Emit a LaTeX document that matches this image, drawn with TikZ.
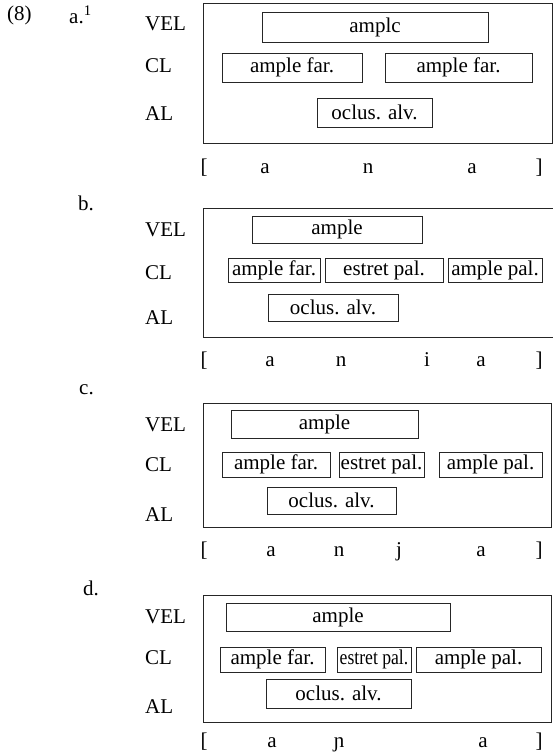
\documentclass[tikz,border=0pt]{standalone}
\usepackage{fontspec}
\setmainfont{Liberation Serif}

\tikzset{
  seg/.style={draw=black!85, line width=0.7pt, inner sep=0pt, minimum height=27pt},
  tier/.style={anchor=west, inner sep=0pt},
  phon/.style={anchor=base, inner sep=0pt},
  frame/.style={draw=black!85, line width=0.8pt}
}

\begin{document}
\begin{tikzpicture}[x=1pt, y=-1pt, font=\fontsize{21}{25}\selectfont]
\useasboundingbox (0,0) rectangle (553,754);

% (8a): [ana]
\begin{scope}[yshift=-3pt]
\node[tier] (num) at (7,12) {(8)};
\node[tier] (la) at (69,12) {a.\textsuperscript{1}};
\node[tier] (aV) at (145,21) {VEL};
\node[tier] (aC) at (145,63) {CL};
\node[tier] (aA) at (145,111) {AL};
\draw[frame] (203,0) rectangle (552,140);
\node[seg, minimum width=226pt, minimum height=30pt] (aVel) at (375,24) {amplc};
\node[seg, minimum width=140pt, minimum height=29pt] (aClA) at (292,64.5) {ample far.};
\node[seg, minimum width=147pt, minimum height=29pt] (aClB) at (458.5,64.5) {ample far.};
\node[seg, minimum width=115pt, minimum height=29pt] (aAl) at (374.5,109.5) {oclus. alv.};
\node[phon] (aL) at (204,170) {[};
\node[phon] (a1) at (265,170) {a};
\node[phon] (a2) at (368,170) {n};
\node[phon] (a3) at (472,170) {a};
\node[phon] (aR) at (539,170) {]};
\end{scope}

% (8b): [ania]
\begin{scope}[yshift=-208pt]
\node[tier] (lb) at (78,-5) {b.};
\node[tier] (bV) at (145,22) {VEL};
\node[tier] (bC) at (145,65) {CL};
\node[tier] (bA) at (145,110) {AL};
\draw[frame] (203,0) rectangle (556,129);
\node[seg, minimum width=170pt] (bVel) at (337,21.5) {ample};
\node[seg, minimum width=92pt, minimum height=24pt] (bClA) at (274,62) {ample far.};
\node[seg, minimum width=118pt, minimum height=24pt] (bClB) at (384,62) {estret pal.};
\node[seg, minimum width=94pt, minimum height=24pt] (bClC) at (495,62) {ample pal.};
\node[seg, minimum width=130pt] (bAl) at (333,99.5) {oclus. alv.};
\node[phon] (bL) at (204,158) {[};
\node[phon] (b1) at (270,158) {a};
\node[phon] (b2) at (341,158) {n};
\node[phon] (b3) at (427,158) {i};
\node[phon] (b4) at (481,158) {a};
\node[phon] (bR) at (539,158) {]};
\end{scope}

% (8c): [anja]
\begin{scope}[yshift=-403pt]
\node[tier] (lc) at (79,-13) {c.};
\node[tier] (cV) at (145,22) {VEL};
\node[tier] (cC) at (145,62) {CL};
\node[tier] (cA) at (145,112) {AL};
\draw[frame] (203,0) rectangle (551,124);
\node[seg, minimum width=187pt, minimum height=28pt] (cVel) at (324.5,21) {ample};
\node[seg, minimum width=108pt, minimum height=25pt] (cClA) at (276,61.5) {ample far.};
\node[seg, minimum width=85pt, minimum height=25pt] (cClB) at (381.5,61.5) {estret pal.};
\node[seg, minimum width=103pt, minimum height=25pt] (cClC) at (490.5,61.5) {ample pal.};
\node[seg, minimum width=129pt] (cAl) at (331.5,97.5) {oclus. alv.};
\node[phon] (cL) at (204,153) {[};
\node[phon] (c1) at (271,153) {a};
\node[phon] (c2) at (339,153) {n};
\node[phon] (c3) at (399,153) {j};
\node[phon] (c4) at (481,153) {a};
\node[phon] (cR) at (539,153) {]};
\end{scope}

% (8d): [a\textltailn a]
\begin{scope}[yshift=-595pt]
\node[tier] (ld) at (83,-7) {d.};
\node[tier] (dV) at (145,22) {VEL};
\node[tier] (dC) at (145,63) {CL};
\node[tier] (dA) at (145,112) {AL};
\draw[frame] (203,0) rectangle (551,127);
\node[seg, minimum width=224pt, minimum height=28pt] (dVel) at (338,22) {ample};
\node[seg, minimum width=105pt, minimum height=25pt] (dClA) at (272.5,64.5) {ample far.};
\node[seg, minimum width=74pt, minimum height=25pt] (dClB) at (374,64.5) {\scalebox{0.84}[1]{estret pal.}};
\node[seg, minimum width=125pt, minimum height=25pt] (dClC) at (478.5,64.5) {ample pal.};
\node[seg, minimum width=145pt, minimum height=29pt] (dAl) at (338.5,98.5) {oclus. alv.};
\node[phon] (dL) at (204,152) {[};
\node[phon] (d1) at (272,152) {a};
\node[phon] (d2) at (339,152) {ɲ};
\node[phon] (d3) at (483,152) {a};
\node[phon] (dR) at (539,152) {]};
\end{scope}
\end{tikzpicture}
\end{document}
